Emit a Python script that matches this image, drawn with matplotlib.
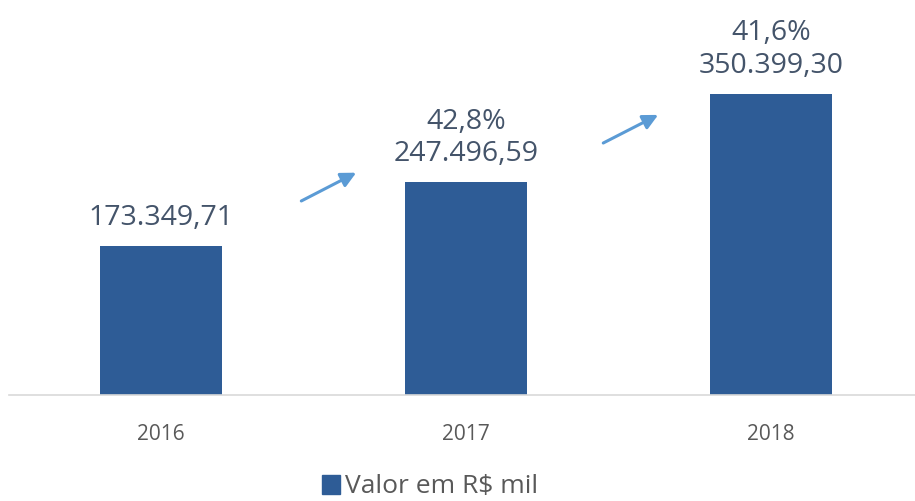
import matplotlib.pyplot as plt
from matplotlib.patches import Patch

plt.rcParams['font.family'] = ['Open Sans', 'DejaVu Sans']

# valores anuais em R$ mil
anos = ["2016", "2017", "2018"]
valores = [173349.71, 247496.59, 350399.30]

# setas de crescimento entre as barras (x, y inicial -> x, y final)
setas = [((0.46, 225600), (0.64, 258500)),
         ((1.45, 293000), (1.63, 325700))]

cor_barra = "#2E5C96"
cor_texto = "#44546A"
cor_seta = "#5B9BD5"


def fmt_br(v):
    s = f"{v:,.2f}"
    return s.replace(",", "X").replace(".", ",").replace("X", ".")


fig = plt.figure(figsize=(9.15, 5.01), dpi=100)
ax = fig.add_axes([0.0093, 0.2116, 1.0, 0.6866])

x = range(len(anos))
ax.bar(x, valores, width=0.4, color=cor_barra, zorder=2)
ax.set_xlim(-0.5, 2.5)
ax.set_ylim(0, 400000)

for i, v in enumerate(valores):
    texto = fmt_br(v)
    if i > 0:
        cresc = (v / valores[i - 1] - 1) * 100
        texto = f"{cresc:.1f}%".replace(".", ",") + "\n" + texto
    ax.annotate(texto, (i, v), xytext=(0, 10), textcoords="offset points",
                ha="center", va="bottom", fontsize=20.5, color=cor_texto,
                linespacing=1.22, annotation_clip=False)

for ini, fim in setas:
    ax.annotate("", xy=fim, xytext=ini,
                arrowprops=dict(arrowstyle="-|>,head_length=0.9,head_width=0.45",
                                color=cor_seta, lw=2.2, shrinkA=0, shrinkB=0))

for lado in ["top", "right", "left"]:
    ax.spines[lado].set_visible(False)
ax.spines["bottom"].set_color("#D9D9D9")
ax.spines["bottom"].set_linewidth(1.2)
ax.set_yticks([])
ax.set_xticks(list(x))
ax.set_xticklabels(anos, fontsize=15, color="#595959")
ax.tick_params(axis="x", length=0, pad=21)

fig.legend(handles=[Patch(color=cor_barra, label="Valor em R$ mil")],
           loc="center", bbox_to_anchor=(0.47, 0.028), frameon=False,
           fontsize=19, labelcolor="#595959", handlelength=0.7,
           handleheight=0.75, handletextpad=0.2)

fig.savefig("out.png", dpi=100)
